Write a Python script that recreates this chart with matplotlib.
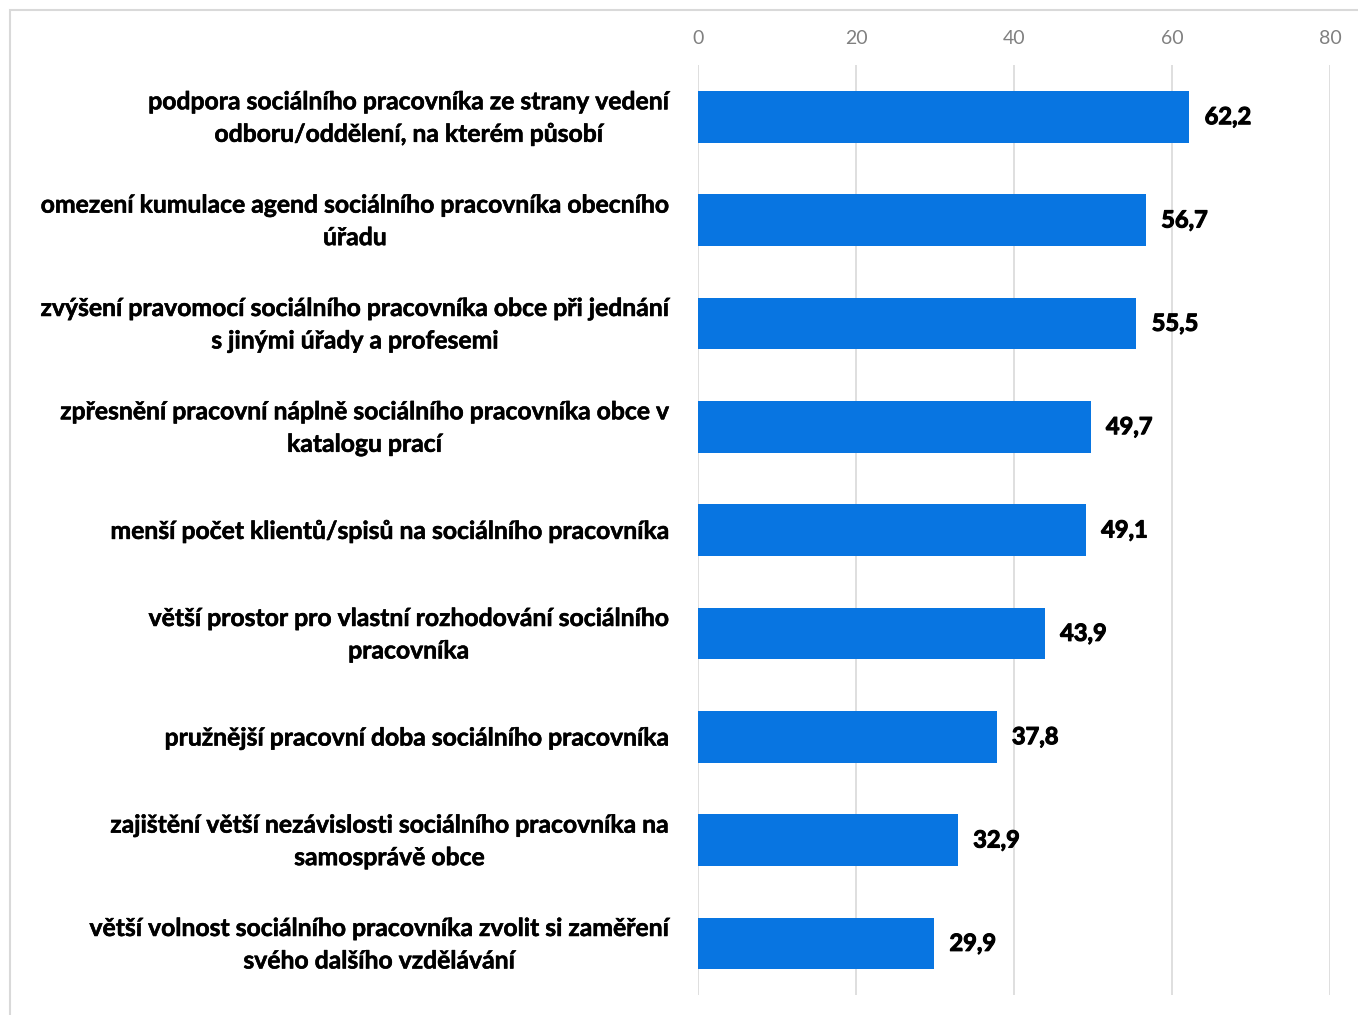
import matplotlib.pyplot as plt
from matplotlib.patches import Rectangle
import matplotlib.patheffects as pe

categories = [
    "podpora sociálního pracovníka ze strany vedení\nodboru/oddělení, na kterém působí",
    "omezení kumulace agend sociálního pracovníka obecního\núřadu",
    "zvýšení pravomocí sociálního pracovníka obce při jednání\ns jinými úřady a profesemi",
    "zpřesnění pracovní náplně sociálního pracovníka obce v\nkatalogu prací",
    "menší počet klientů/spisů na sociálního pracovníka",
    "větší prostor pro vlastní rozhodování sociálního\npracovníka",
    "pružnější pracovní doba sociálního pracovníka",
    "zajištění větší nezávislosti sociálního pracovníka na\nsamosprávě obce",
    "větší volnost sociálního pracovníka zvolit si zaměření\nsvého dalšího vzdělávání",
]
values = [62.2, 56.7, 55.5, 49.7, 49.1, 43.9, 37.8, 32.9, 29.9]
ticks = [0, 20, 40, 60, 80]

plt.rcParams['font.family'] = ['Lato', 'DejaVu Sans']

W, H = 1358, 1015
fig = plt.figure(figsize=(W / 100, H / 100), dpi=100)
ax = fig.add_axes([698 / W, 1 - 995 / H, (1330 - 698) / W, (995 - 65) / H])

# outer frame
fig.patches.append(Rectangle((10 / W, -0.01), 1.05, 1 - 10 / H + 0.01,
                             transform=fig.transFigure, fill=False,
                             edgecolor='#d9d9d9', linewidth=1.5))

y = list(range(len(categories)))
ax.barh(y, values, height=0.5, color='#0875e1', zorder=3)
ax.set_ylim(len(categories) - 0.5, -0.5)
ax.set_xlim(0, 80)
ax.set_xticks(ticks)
ax.xaxis.tick_top()
ax.tick_params(axis='x', length=0, pad=13, labelsize=14, labelcolor='#808080')
ax.set_yticks([])
ax.grid(axis='x', color='#d9d9d9', linewidth=1.2, zorder=0)
for s in ax.spines.values():
    s.set_visible(False)

thick = [pe.withStroke(linewidth=0.8, foreground='black')]
for yi, v, lab in zip(y, values, categories):
    ax.annotate(f"{v:.1f}".replace('.', ','), (v, yi), xytext=(11, 0),
                textcoords='offset points', va='center', ha='left',
                fontsize=17, fontweight='bold', color='black',
                path_effects=thick)
    ax.annotate(lab, (0, yi), xytext=(-21, -1), textcoords='offset points',
                va='center', ha='right', multialignment='center',
                fontsize=17.8, fontweight='bold', color='black',
                linespacing=1.5, path_effects=[pe.withStroke(linewidth=0.4, foreground='black')])

fig.savefig("out.png", dpi=100)
